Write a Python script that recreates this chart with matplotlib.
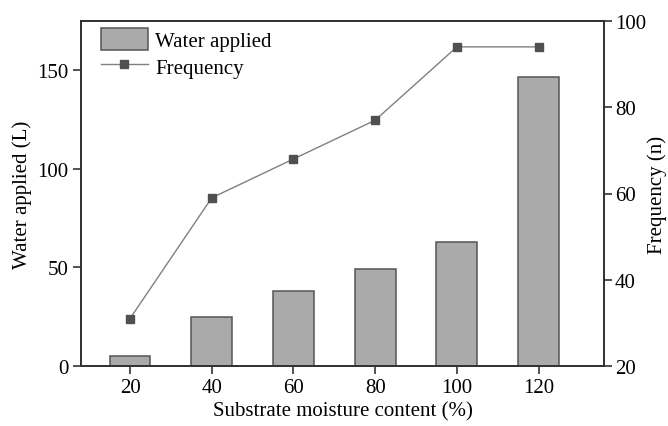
import matplotlib
matplotlib.use("Agg")
import matplotlib.pyplot as plt

moisture = [20, 40, 60, 80, 100, 120]
water_applied = [5, 25, 38.2, 49.2, 62.7, 146.6]
frequency = [31, 59, 68, 77, 94, 94]

plt.rcParams['font.family'] = ['Liberation Serif', 'DejaVu Serif']
FS = 15

fig = plt.figure(figsize=(6.68, 4.27), dpi=100)
ax = fig.add_axes([81/668, 1-367/427, (604-81)/668, (367-22)/427])
spc = '#333333'
bars = ax.bar(moisture, water_applied, width=10, color='#aaaaaa', edgecolor='#555555',
              linewidth=1.1, label='Water applied', zorder=2)
ax.set_xlim(8, 136)
ax.set_ylim(0, 175)
ax.set_xticks(moisture)
ax.set_yticks([0, 50, 100, 150])
ax.set_xlabel('Substrate moisture content (%)', fontsize=FS, labelpad=3)
ax.set_ylabel('Water applied (L)', fontsize=FS, labelpad=4)
for s in ax.spines.values():
    s.set_color(spc)
    s.set_linewidth(1.3)
ax.tick_params(direction='out', length=6, width=1.2, color=spc, labelsize=FS, pad=3)

ax2 = ax.twinx()
line, = ax2.plot(moisture, frequency, color='#808080', linewidth=1, marker='s',
                 markersize=6, markerfacecolor='#505050', markeredgecolor='#505050',
                 label='Frequency', zorder=3)
ax2.set_ylim(20, 100)
ax2.set_yticks([20, 40, 60, 80, 100])
ax2.set_ylabel('Frequency (n)', fontsize=FS, labelpad=1)
for s in ax2.spines.values():
    s.set_color(spc)
    s.set_linewidth(1.3)
ax2.tick_params(direction='out', length=6, width=1.2, color=spc, labelsize=FS, pad=2)

ax.legend([bars, line], ['Water applied', 'Frequency'], loc='upper left',
          bbox_to_anchor=(20/523, 1-7/345), frameon=False, fontsize=FS,
          handlelength=2.25, handleheight=1.25, handletextpad=0.35, labelspacing=0.2,
          borderaxespad=0, borderpad=0)

fig.savefig('out.png', dpi=100)
